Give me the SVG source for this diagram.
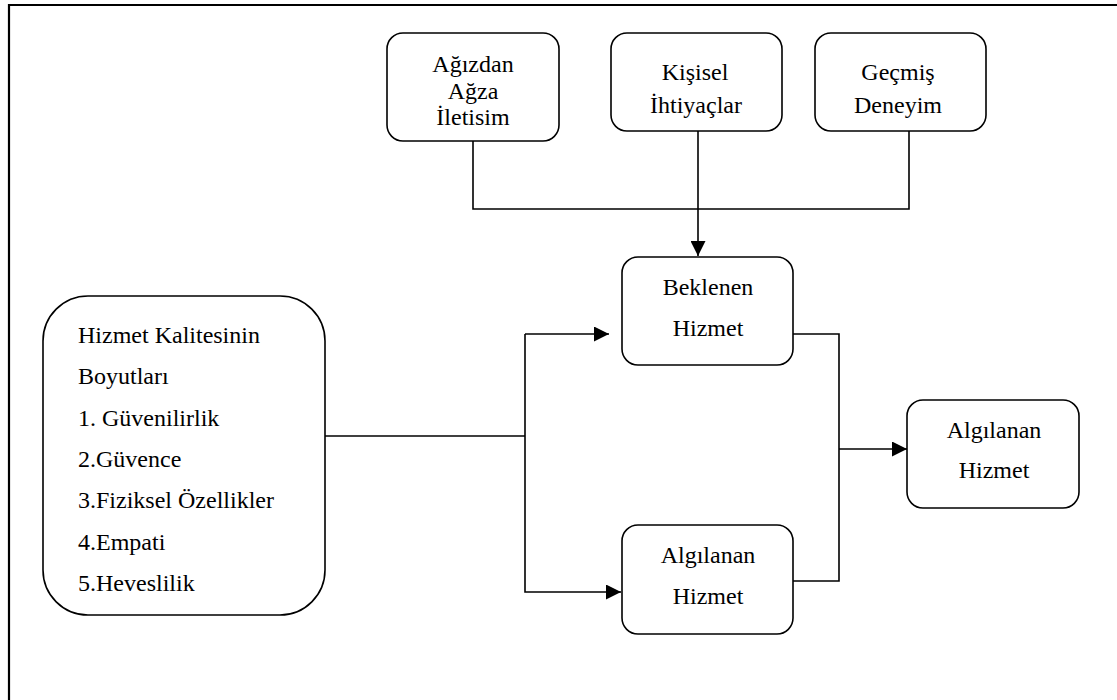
<svg xmlns="http://www.w3.org/2000/svg" width="1117" height="700" viewBox="0 0 1117 700">
<defs>
<style>
.box{fill:#fff;stroke:#000;stroke-width:1.6}
.ln{fill:none;stroke:#000;stroke-width:1.6}
.t{font-family:'Liberation Serif','Times New Roman',serif;font-size:24px;fill:#000}
.c{text-anchor:middle}
</style>
<marker id="ah" viewBox="0 0 10 10" refX="10" refY="5" markerWidth="15" markerHeight="15" markerUnits="userSpaceOnUse" orient="auto">
<path d="M0,0 L10,5 L0,10 Z" fill="#000"/>
</marker>
</defs>
<rect width="1117" height="700" fill="#fff"/>
<g id="frame">
<path d="M9,700 V5 H1117" fill="none" stroke="#000" stroke-width="2.2"/>
</g>
<g id="connectors">
<path class="ln" d="M473,141 V209 H909 V131"/>
<path class="ln" d="M698,131 V256" marker-end="url(#ah)"/>
<path class="ln" d="M325,436 H525"/>
<path class="ln" d="M525,334 H609" marker-end="url(#ah)"/>
<path class="ln" d="M525,334 V592 H621" marker-end="url(#ah)"/>
<path class="ln" d="M793,334 H839 V581 H793"/>
<path class="ln" d="M839,449 H907" marker-end="url(#ah)"/>
</g>
<g id="agizdan">
<rect class="box" x="387" y="33" width="172" height="108" rx="16"/>
<text class="t c" x="473" y="72">Ağızdan</text>
<text class="t c" x="473" y="98.5">Ağza</text>
<text class="t c" x="473" y="125">İletisim</text>
</g>
<g id="kisisel">
<rect class="box" x="611" y="33" width="171" height="98" rx="16"/>
<text class="t c" x="695" y="80">Kişisel</text>
<text class="t c" x="696" y="113">İhtiyaçlar</text>
</g>
<g id="gecmis">
<rect class="box" x="815" y="33" width="171" height="98" rx="16"/>
<text class="t c" x="898" y="80">Geçmiş</text>
<text class="t c" x="898" y="113">Deneyim</text>
</g>
<g id="beklenen">
<rect class="box" x="622" y="257" width="171" height="108" rx="16"/>
<text class="t c" x="708" y="295">Beklenen</text>
<text class="t c" x="708" y="336">Hizmet</text>
</g>
<g id="boyutlar">
<rect class="box" x="43" y="296" width="282" height="319" rx="45"/>
<text class="t" x="78" y="343">Hizmet Kalitesinin</text>
<text class="t" x="78" y="384">Boyutları</text>
<text class="t" x="78" y="426">1. Güvenilirlik</text>
<text class="t" x="78" y="467">2.Güvence</text>
<text class="t" x="78" y="508">3.Fiziksel Özellikler</text>
<text class="t" x="78" y="550">4.Empati</text>
<text class="t" x="78" y="591">5.Heveslilik</text>
</g>
<g id="algilanan1">
<rect class="box" x="622" y="525" width="171" height="109" rx="16"/>
<text class="t c" x="708" y="563">Algılanan</text>
<text class="t c" x="708" y="604">Hizmet</text>
</g>
<g id="algilanan2">
<rect class="box" x="907" y="400" width="172" height="108" rx="16"/>
<text class="t c" x="994" y="438">Algılanan</text>
<text class="t c" x="994" y="478">Hizmet</text>
</g>
</svg>
